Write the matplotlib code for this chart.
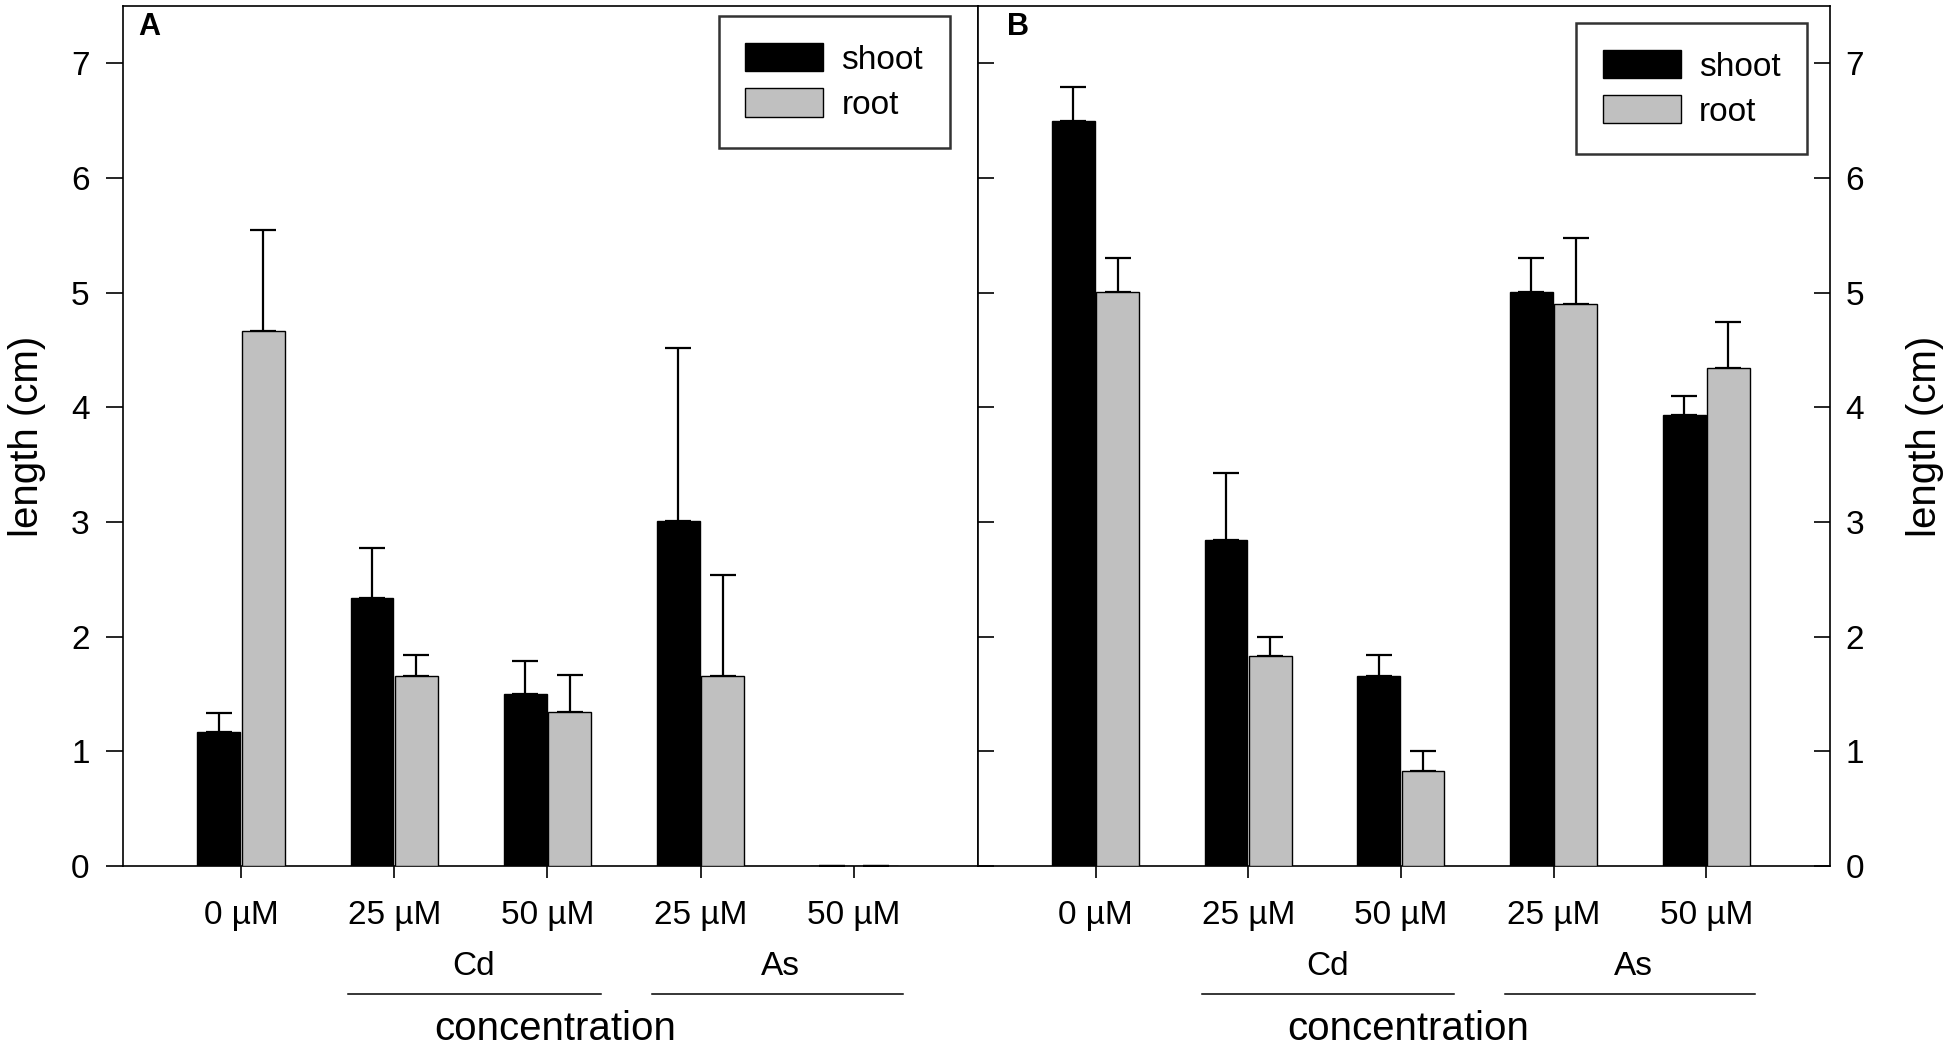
import matplotlib
matplotlib.use('Agg')
import matplotlib.pyplot as plt
import numpy as np

plt.rcParams['font.family'] = ['Liberation Sans', 'DejaVu Sans']

# data (length in cm)
conc_labels = ['0 µM', '25 µM', '50 µM', '25 µM', '50 µM']
series_names = ['shoot', 'root']
group_names = ['Cd', 'As']

a_shoot = [1.17, 2.34, 1.50, 3.01, 0.0]
a_shoot_err = [0.16, 0.43, 0.29, 1.51, 0.0]
a_root = [4.67, 1.66, 1.34, 1.66, 0.0]
a_root_err = [0.88, 0.18, 0.33, 0.88, 0.0]

b_shoot = [6.50, 2.84, 1.66, 5.01, 3.93]
b_shoot_err = [0.29, 0.59, 0.18, 0.29, 0.17]
b_root = [5.01, 1.83, 0.83, 4.90, 4.34]
b_root_err = [0.29, 0.17, 0.17, 0.58, 0.40]

# where the Cd / As brackets sit under the x axis (in category units)
group_centers = [1.52, 3.52]
group_spans = [(0.70, 2.35), (2.68, 4.32)]

colors = ['black', '#c0c0c0']
bar_w = 0.28
offset = 0.145
tick_fs = 24


def draw_panel(ax, shoot, shoot_err, root, root_err, letter, side):
    x = np.arange(len(conc_labels))
    bars = []
    for vals, errs, col, sign, name in [(shoot, shoot_err, colors[0], -1, series_names[0]),
                                        (root, root_err, colors[1], 1, series_names[1])]:
        xs = x + sign * offset
        b = ax.bar(xs, vals, bar_w, color=col, edgecolor='black', linewidth=1.0,
                   zorder=3, label=name)
        ax.errorbar(xs, vals, yerr=[np.zeros(len(errs)), errs], fmt='none',
                    ecolor='black', elinewidth=1.6, capsize=9.7, capthick=1.6, zorder=2)
        bars.append(b)

    ax.set_xlim(-0.77, 4.81)
    ax.set_ylim(0, 7.5)
    ax.set_xticks(x)
    ax.set_xticklabels(conc_labels)
    ax.set_yticks(range(8))
    for sp in ax.spines.values():
        sp.set_linewidth(1.2)

    ax.tick_params(axis='x', direction='out', length=8.6, width=1.2, pad=16, labelsize=tick_fs)
    if side == 'left':
        ax.tick_params(axis='y', direction='out', length=12, width=1.2, pad=12, labelsize=tick_fs)
        ax.set_ylabel('length (cm)', fontsize=29, labelpad=18)
        leg_anchor = (0.967, 0.988)
    else:
        ax.yaxis.set_label_position('right')
        ax.tick_params(axis='y', which='both', left=True, right=True, direction='in',
                       length=11.5, width=1.2, pad=11, labelsize=tick_fs,
                       labelleft=False, labelright=True)
        ax.set_ylabel('length (cm)', fontsize=29, labelpad=30, rotation=90)
        leg_anchor = (0.973, 0.980)

    leg = ax.legend(handles=bars, loc='upper right', bbox_to_anchor=leg_anchor,
                    borderaxespad=0, fontsize=24, frameon=True, fancybox=False,
                    handlelength=2.34, handleheight=0.93, handletextpad=0.54,
                    borderpad=0.8, labelspacing=0.38)
    leg.get_frame().set_edgecolor('black')
    leg.get_frame().set_linewidth(1.8)

    ax.text(0.0175 if side == 'left' else 0.034, 0.993, letter, transform=ax.transAxes,
            ha='left', va='top', fontsize=22, fontweight='bold')

    trans = ax.get_xaxis_transform()
    for name, cx, (x0, x1) in zip(group_names, group_centers, group_spans):
        ax.text(cx, -0.117, name, transform=trans, ha='center', va='center', fontsize=tick_fs)
        ax.plot([x0, x1], [-0.149, -0.149], transform=trans, color='black',
                linewidth=1.1, clip_on=False)
    ax.text(2.05, -0.19, 'concentration', transform=trans, ha='center', va='center',
            fontsize=29)


fig = plt.figure(figsize=(19.5, 10.53), dpi=100)
ax_a = fig.add_axes([123 / 1950, 1 - 866 / 1053, 855 / 1950, 860 / 1053])
ax_b = fig.add_axes([978 / 1950, 1 - 866 / 1053, 852 / 1950, 860 / 1053])

draw_panel(ax_a, a_shoot, a_shoot_err, a_root, a_root_err, 'A', 'left')
draw_panel(ax_b, b_shoot, b_shoot_err, b_root, b_root_err, 'B', 'right')

fig.savefig('out.png', dpi=100, facecolor='white')
plt.close(fig)
